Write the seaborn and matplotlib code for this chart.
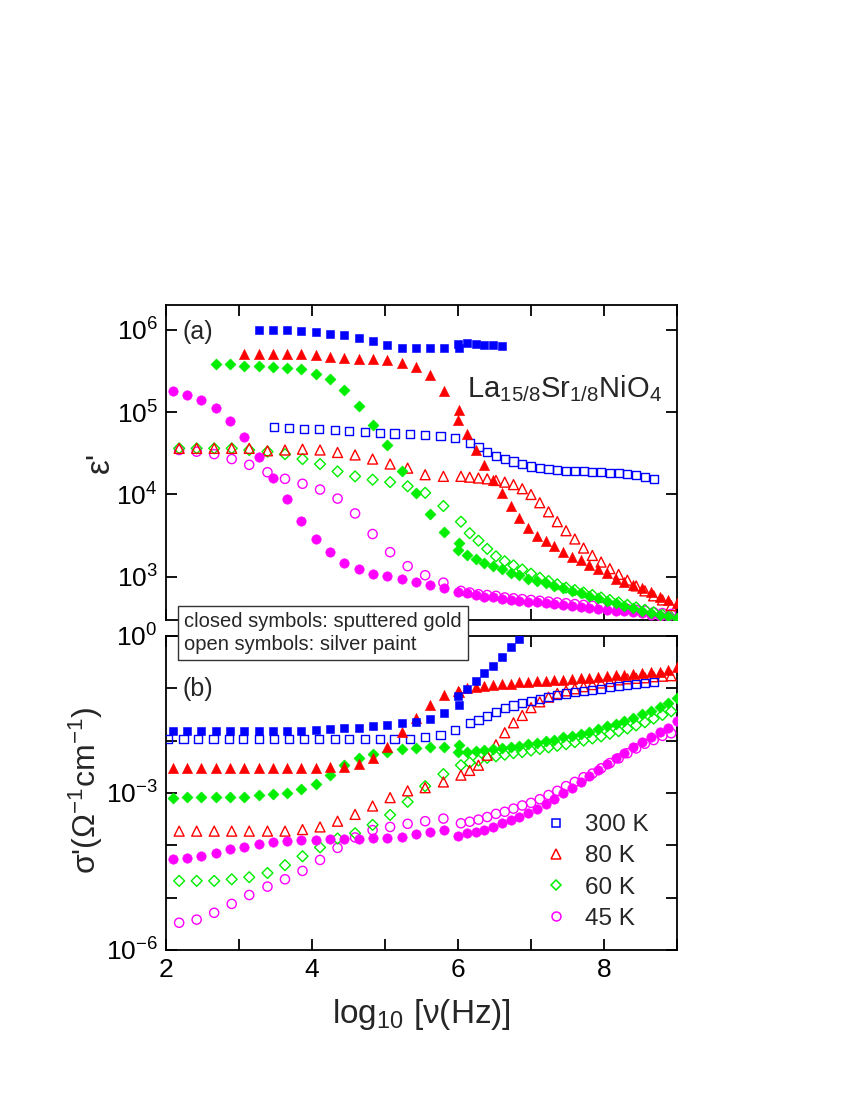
import numpy as np
import pandas as pd
import matplotlib
matplotlib.use("Agg")
import matplotlib.pyplot as plt
import seaborn as sns
from matplotlib.lines import Line2D
from matplotlib.ticker import NullLocator, FixedLocator, FixedFormatter

sns.set_theme(style="ticks")
plt.rcParams['font.family'] = ['Liberation Sans', 'DejaVu Sans']
plt.rcParams['mathtext.fontset'] = 'custom'
plt.rcParams['mathtext.rm'] = 'Liberation Sans'
plt.rcParams['mathtext.it'] = 'Liberation Sans:italic'
plt.rcParams['mathtext.default'] = 'regular'

N = np.nan

# ---------------- frequency grids: log10[nu(Hz)] ----------------
x_lo_closed = [2.09, 2.29, 2.48, 2.68, 2.87, 3.07, 3.27, 3.46, 3.66, 3.85, 4.05,
               4.25, 4.44, 4.64, 4.83, 5.03, 5.23, 5.42, 5.62, 5.81, 6.01]
x_lo_open = [2.18, 2.42, 2.66, 2.90, 3.14, 3.39, 3.63, 3.87, 4.11, 4.35, 4.59,
             4.83, 5.07, 5.31, 5.55, 5.80, 6.04]
x_lo_open_300 = [2.03, 2.24, 2.44, 2.65, 2.86, 3.06, 3.27, 3.48, 3.69, 3.89, 4.10,
                 4.31, 4.51, 4.72, 4.93, 5.13, 5.34, 5.55, 5.76, 5.96]
x_hi_closed = [6.00, 6.12, 6.24, 6.36, 6.48, 6.60, 6.72, 6.84, 6.96, 7.08, 7.20,
               7.32, 7.44, 7.56, 7.68, 7.80, 7.92, 8.04, 8.16, 8.28, 8.40, 8.52,
               8.64, 8.76, 8.88, 9.00]
x_hi_open = [6.16, 6.28, 6.40, 6.52, 6.64, 6.76, 6.88, 7.00, 7.12, 7.24, 7.36,
             7.48, 7.60, 7.72, 7.84, 7.96, 8.08, 8.20, 8.32, 8.44, 8.56, 8.68,
             8.80, 8.92]

# ---------------- (a) log10 eps' ----------------
eps_300_closed_lo = [N, N, N, N, N, N, 6.00, 6.00, 6.00, 5.99, 5.97, 5.95, 5.93, 5.90,
                     5.86, 5.82, 5.78, 5.78, 5.78, 5.78, 5.78]
eps_300_closed_hi = [5.83, 5.84, 5.83, 5.82, 5.81, 5.80] + [N] * 20
eps_80_closed_lo = [N, N, N, N, N, 5.70, 5.71, 5.71, 5.70, 5.70, 5.69, 5.67, 5.66,
                    5.65, 5.64, 5.63, 5.60, 5.55, 5.45, 5.26, 5.02]
eps_80_closed_hi = [4.91, 4.73, 4.54, 4.36, 4.18, 4.02, 3.86, 3.72, 3.59, 3.50, 3.44,
                    3.37, 3.30, 3.24, 3.20, 3.15, 3.09, 3.05, 2.98, 2.94, 2.90, 2.86,
                    2.82, 2.76, 2.72, 2.68]
eps_60_closed_lo = [N, N, N, 5.58, 5.58, 5.56, 5.56, 5.55, 5.54, 5.52, 5.46, 5.40,
                    5.27, 5.07, 4.84, 4.60, 4.28, 4.02, 3.76, 3.54, 3.41]
eps_60_closed_hi = [3.33, 3.27, 3.22, 3.17, 3.13, 3.09, 3.05, 3.02, 2.98, 2.95, 2.92,
                    2.89, 2.86, 2.83, 2.80, 2.77, 2.74, 2.71, 2.68, 2.65, 2.62, 2.59,
                    2.56, 2.54, 2.52, 2.50]
eps_45_closed_lo = [5.26, 5.21, 5.15, 5.05, 4.89, 4.70, 4.45, 4.20, 3.94, 3.68, 3.46,
                    3.30, 3.17, 3.10, 3.04, 3.01, 2.97, 2.94, 2.90, 2.87, N]
eps_45_closed_hi = [2.82, 2.80, 2.78, 2.76, 2.75, 2.73, 2.72, 2.71, 2.70, 2.69, 2.68,
                    2.67, 2.66, 2.65, 2.64, 2.62, 2.61, 2.60, 2.59, 2.58, 2.57, 2.56,
                    2.54, 2.53, 2.52, 2.50]

eps_300_open_lo = [N, N, N, N, N, N, N, 4.82, 4.81, 4.80, 4.79, 4.78, 4.77, 4.76,
                   4.75, 4.74, 4.73, 4.72, 4.71, 4.69]
eps_300_open_hi = [4.62, 4.58, 4.52, 4.47, 4.43, 4.40, 4.37, 4.34, 4.32, 4.31, 4.30,
                   4.29, 4.28, 4.28, 4.27, 4.27, 4.26, 4.26, 4.25, 4.24, 4.21, 4.19,
                   N, N]
eps_80_open_lo = [4.56, 4.56, 4.56, 4.56, 4.56, 4.53, 4.54, 4.55, 4.54, 4.51, 4.48,
                  4.43, 4.37, 4.32, 4.24, 4.22, 4.22]
eps_80_open_hi = [4.21, 4.20, 4.19, 4.17, 4.15, 4.12, 4.07, 4.00, 3.90, 3.79, 3.67,
                  3.56, 3.46, 3.35, 3.26, 3.18, 3.10, 3.03, 2.96, 2.89, 2.83, 2.77,
                  2.72, 2.65]
eps_60_open_lo = [4.56, 4.56, 4.56, 4.56, 4.54, 4.52, 4.49, 4.43, 4.37, 4.28, 4.22,
                  4.18, 4.15, 4.10, 4.02, 3.86, 3.67]
eps_60_open_hi = [3.53, 3.44, 3.34, 3.25, 3.19, 3.14, 3.09, 3.04, 2.99, 2.95, 2.91,
                  2.87, 2.84, 2.81, 2.78, 2.75, 2.72, 2.69, 2.66, 2.63, 2.60, 2.57,
                  2.54, 2.51]
eps_45_open_lo = [4.54, 4.52, 4.49, 4.43, 4.36, 4.27, 4.19, 4.13, 4.06, 3.95, 3.77,
                  3.52, 3.30, 3.13, 3.02, 2.93, 2.83]
eps_45_open_hi = [2.81, 2.79, 2.78, 2.77, 2.75, 2.74, 2.73, 2.72, 2.71, 2.70, 2.69,
                  2.68, 2.67, 2.66, 2.65, 2.64, 2.63, 2.62, 2.61, 2.60, 2.59, 2.57,
                  2.56, 2.55]

# ---------------- (b) log10 sigma' ----------------
sig_300_closed_lo = [-1.81, -1.81, -1.81, -1.81, -1.81, -1.81, -1.81, -1.81, -1.81,
                     -1.81, -1.79, -1.78, -1.76, -1.75, -1.72, -1.70, -1.67, -1.65,
                     -1.59, -1.47, -1.32]
sig_300_closed_hi = [-1.14, -1.02, -0.87, -0.71, -0.57, -0.40, -0.22, -0.06] + [N] * 18
sig_80_closed_lo = [-2.53, -2.53, -2.53, -2.53, -2.53, -2.53, -2.53, -2.53, -2.53,
                    -2.53, -2.53, -2.50, -2.50, -2.45, -2.34, -2.13, -1.83, -1.57,
                    -1.32, -1.13, -1.08]
sig_80_closed_hi = [-1.05, -1.00, -0.97, -0.95, -0.94, -0.92, -0.91, -0.89, -0.88,
                    -0.87, -0.86, -0.85, -0.84, -0.82, -0.81, -0.80, -0.78, -0.77,
                    -0.75, -0.74, -0.72, -0.71, -0.69, -0.68, -0.65, -0.60]
sig_60_closed_lo = [-3.09, -3.07, -3.07, -3.07, -3.07, -3.07, -3.04, -3.02, -3.00,
                    -2.93, -2.82, -2.66, -2.47, -2.34, -2.26, -2.22, -2.16, -2.15,
                    -2.13, -2.12, -2.08]
sig_60_closed_hi = [-2.21, -2.22, -2.20, -2.18, -2.16, -2.14, -2.12, -2.10, -2.07,
                    -2.04, -2.01, -1.98, -1.94, -1.91, -1.87, -1.83, -1.78, -1.73,
                    -1.68, -1.62, -1.56, -1.50, -1.43, -1.36, -1.29, -1.19]
sig_45_closed_lo = [-4.27, -4.25, -4.21, -4.14, -4.08, -4.03, -3.98, -3.94, -3.92,
                    -3.90, -3.89, -3.88, -3.88, -3.88, -3.87, -3.87, -3.84, -3.79,
                    -3.74, -3.71, N]
sig_45_closed_hi = [-3.82, -3.77, -3.74, -3.70, -3.65, -3.58, -3.52, -3.46, -3.39,
                    -3.31, -3.22, -3.12, -3.01, -2.90, -2.79, -2.68, -2.56, -2.45,
                    -2.34, -2.23, -2.12, -2.02, -1.93, -1.83, -1.75, -1.62]

sig_300_open_lo = [-1.97, -1.97, -1.97, -1.97, -1.97, -1.97, -1.97, -1.97, -1.97,
                   -1.97, -1.97, -1.97, -1.97, -1.97, -1.97, -1.97, -1.97, -1.93,
                   -1.89, -1.80]
sig_300_open_hi = [-1.67, -1.60, -1.53, -1.45, -1.38, -1.33, -1.29, -1.25, -1.20,
                   -1.17, -1.13, -1.10, -1.07, -1.05, -1.03, -1.01, -0.98, -0.96,
                   -0.94, -0.92, -0.90, -0.88, N, N]
sig_80_open_lo = [-3.73, -3.73, -3.73, -3.73, -3.73, -3.73, -3.73, -3.70, -3.65,
                  -3.54, -3.41, -3.25, -3.09, -2.96, -2.90, -2.79, -2.66]
sig_80_open_hi = [-2.57, -2.47, -2.28, -2.08, -1.85, -1.66, -1.52, -1.37, -1.26,
                  -1.17, -1.10, -1.05, -1.01, -0.97, -0.93, -0.90, -0.87, -0.84,
                  -0.82, -0.81, -0.80, -0.78, -0.77, -0.76]
sig_60_open_lo = [-4.68, -4.68, -4.68, -4.65, -4.61, -4.53, -4.38, -4.21, -4.04,
                  -3.87, -3.77, -3.61, -3.42, -3.17, -2.87, -2.64, -2.47]
sig_60_open_hi = [-2.42, -2.38, -2.33, -2.30, -2.27, -2.24, -2.22, -2.19, -2.16,
                  -2.13, -2.10, -2.07, -2.03, -2.00, -1.96, -1.92, -1.87, -1.82,
                  -1.77, -1.71, -1.65, -1.58, -1.51, -1.44]
sig_45_open_lo = [-5.48, -5.42, -5.29, -5.12, -4.95, -4.79, -4.65, -4.49, -4.28,
                  -4.05, -3.85, -3.71, -3.65, -3.59, -3.54, -3.49, -3.58]
sig_45_open_hi = [-3.55, -3.51, -3.46, -3.40, -3.36, -3.30, -3.24, -3.19, -3.12,
                  -3.04, -2.96, -2.87, -2.79, -2.70, -2.63, -2.53, -2.43, -2.34,
                  -2.24, -2.15, -2.06, -1.99, -1.91, -1.86]

temps = ["300 K", "80 K", "60 K", "45 K"]
colors = {"300 K": "#0000FF", "80 K": "#FF0000", "60 K": "#00EE00", "45 K": "#FF00FF"}
markers = {"300 K": "s", "80 K": "^", "60 K": "D", "45 K": "o"}
sizes = {"300 K": 36, "80 K": 54, "60 K": 32, "45 K": 46}


def frame(xlo, ylo, xhi, yhi):
    x = list(xlo) + list(xhi)
    y = 10.0 ** np.array(list(ylo) + list(yhi), dtype=float)
    df = pd.DataFrame({"x": x, "y": y})
    return df.dropna()


eps_sets = {
    "300 K": ((x_lo_closed, eps_300_closed_lo, x_hi_closed, eps_300_closed_hi),
              (x_lo_open_300, eps_300_open_lo, x_hi_open, eps_300_open_hi)),
    "80 K": ((x_lo_closed, eps_80_closed_lo, x_hi_closed, eps_80_closed_hi),
             (x_lo_open, eps_80_open_lo, x_hi_open, eps_80_open_hi)),
    "60 K": ((x_lo_closed, eps_60_closed_lo, x_hi_closed, eps_60_closed_hi),
             (x_lo_open, eps_60_open_lo, x_hi_open, eps_60_open_hi)),
    "45 K": ((x_lo_closed, eps_45_closed_lo, x_hi_closed, eps_45_closed_hi),
             (x_lo_open, eps_45_open_lo, x_hi_open, eps_45_open_hi)),
}
sig_sets = {
    "300 K": ((x_lo_closed, sig_300_closed_lo, x_hi_closed, sig_300_closed_hi),
              (x_lo_open_300, sig_300_open_lo, x_hi_open, sig_300_open_hi)),
    "80 K": ((x_lo_closed, sig_80_closed_lo, x_hi_closed, sig_80_closed_hi),
             (x_lo_open, sig_80_open_lo, x_hi_open, sig_80_open_hi)),
    "60 K": ((x_lo_closed, sig_60_closed_lo, x_hi_closed, sig_60_closed_hi),
             (x_lo_open, sig_60_open_lo, x_hi_open, sig_60_open_hi)),
    "45 K": ((x_lo_closed, sig_45_closed_lo, x_hi_closed, sig_45_closed_hi),
             (x_lo_open, sig_45_open_lo, x_hi_open, sig_45_open_hi)),
}

fig = plt.figure(figsize=(8.5, 11), dpi=100)
fig.patch.set_facecolor("white")
ax1 = fig.add_axes([0.1953, 0.4364, 0.6012, 0.2864])
ax2 = fig.add_axes([0.1953, 0.1364, 0.6012, 0.2855])

order = ["45 K", "60 K", "80 K", "300 K"]


def draw(ax, sets):
    for t in order:
        closed, opened = sets[t]
        c = colors[t]
        m = markers[t]
        d_open = frame(*opened)
        sns.scatterplot(data=d_open, x="x", y="y", ax=ax, marker=m, s=sizes[t] * 0.95,
                        color=c, facecolors="none", edgecolor=c, linewidth=1.0,
                        legend=False, zorder=3)
        d_closed = frame(*closed)
        sns.scatterplot(data=d_closed, x="x", y="y", ax=ax, marker=m, s=sizes[t],
                        color=c, edgecolor=c, linewidth=0.4, legend=False, zorder=4)


for ax in (ax1, ax2):
    ax.set_yscale("log")

draw(ax1, eps_sets)
draw(ax2, sig_sets)

for ax in (ax1, ax2):
    ax.set_facecolor("white")
    ax.grid(False)
    ax.set_xlim(2, 9)
    ax.set_xlabel("")
    ax.set_ylabel("")
    for sp in ax.spines.values():
        sp.set_visible(True)
        sp.set_color("black")
        sp.set_linewidth(1.3)
    ax.set_xticks([2, 3, 4, 5, 6, 7, 8, 9])
    ax.yaxis.set_minor_locator(NullLocator())
    ax.xaxis.set_minor_locator(NullLocator())
    ax.tick_params(which="both", direction="in", top=True, right=True, length=8,
                   width=1.3, labelsize=19, colors="black", pad=6)

ax1.set_ylim(300, 2e6)
ax1.yaxis.set_major_locator(FixedLocator([1e3, 1e4, 1e5, 1e6]))
ax1.yaxis.set_major_formatter(FixedFormatter(["$10^{3}$", "$10^{4}$", "$10^{5}$", "$10^{6}$"]))
ax1.yaxis.set_minor_locator(NullLocator())
ax1.set_xticklabels([])

ax2.set_ylim(1e-6, 1e0)
ax2.yaxis.set_major_locator(FixedLocator([1e-6, 1e-5, 1e-4, 1e-3, 1e-2, 1e-1, 1e0]))
ax2.yaxis.set_major_formatter(FixedFormatter(["$10^{-6}$", "", "", "$10^{-3}$", "", "", "$10^{0}$"]))
ax2.yaxis.set_minor_locator(NullLocator())
ax2.set_xticklabels(["2", "", "4", "", "6", "", "8", ""])

# panel texts
ax1.text(0.033, 0.915, "(a)", transform=ax1.transAxes, fontsize=18, ha="left", va="center")
ax2.text(0.033, 0.83, "(b)", transform=ax2.transAxes, fontsize=18, ha="left", va="center")
ax1.text(0.971, 0.708, "La$_{15/8}$Sr$_{1/8}$NiO$_{4}$", transform=ax1.transAxes,
         fontsize=21, ha="right", va="baseline")

# axis labels
fig.text(100 / 850, 1 - 462 / 1100, "ε'", rotation=90, ha="center", va="center", fontsize=24)
fig.text(86 / 850, 1 - 790 / 1100, "σ'(Ω$^{-1}$cm$^{-1}$)", rotation=90, ha="center",
         va="center", fontsize=23)
fig.text(421 / 850, 1 - 1015 / 1100, "log$_{10}$ [ν(Hz)]", ha="center", va="center", fontsize=24)

# note box
fig.text(184 / 850, 1 - 612 / 1100,
         "closed symbols: sputtered gold\nopen symbols: silver paint",
         ha="left", va="top", fontsize=14.5, linespacing=1.25, zorder=10,
         bbox=dict(boxstyle="square,pad=0.3", fc="white", ec="#333333", lw=1.0))

# legend
handles = [Line2D([], [], marker=markers[t], linestyle="", markerfacecolor="none",
                  markeredgecolor=colors[t], markeredgewidth=1.1,
                  markersize=np.sqrt(sizes[t]) * 0.95) for t in temps]
ax2.legend(handles, temps, loc="upper left", bbox_to_anchor=(544 / 850, 1 - 814 / 1100),
           bbox_transform=fig.transFigure, frameon=False, fontsize=17.5,
           handlelength=1.0, handletextpad=0.7, labelspacing=0.38,
           borderpad=0, borderaxespad=0)

fig.savefig("out.png", dpi=100, facecolor="white")
